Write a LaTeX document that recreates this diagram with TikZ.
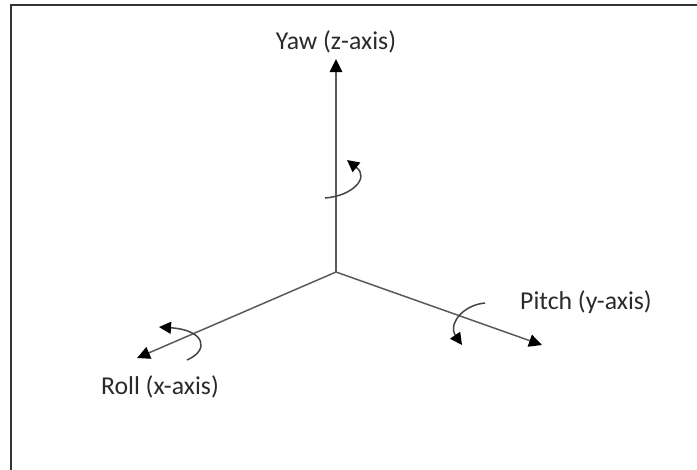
\documentclass[tikz,border=0pt]{standalone}
\usepackage{fontspec}
\setmainfont{Carlito}
\usepackage{tikz}
\usetikzlibrary{arrows.meta,positioning}
\definecolor{axisgray}{HTML}{5A5A5A}
\definecolor{rotgray}{HTML}{444444}
\definecolor{labelgray}{HTML}{2A2A2A}
\tikzset{
  axis/.style={draw=axisgray,line width=0.6pt,-{Triangle[length=5.2pt,width=5pt,color=black]}},
  rotarrow/.style={draw=rotgray,line width=0.6pt,-{Triangle[length=4.8pt,width=4.8pt,color=black]}},
  axislabel/.style={text=labelgray,font=\fontsize{10.3}{12}\selectfont,inner sep=0pt}
}

\begin{document}
\begin{tikzpicture}[x=0.4pt,y=-0.4pt]
    \useasboundingbox (0,0) rectangle (697,469);
    \draw[line width=0.8pt,black!80] (10.5,475) -- (10.5,5) -- (700,5);
    \coordinate (o)     at (336,272);
    \coordinate (ztip)  at (336,59);
    \coordinate (ytip)  at (542,345);
    \coordinate (xtip)  at (137,358);
    \draw[axis] (o) -- (ztip);
    \draw[axis] (o) -- (ytip);
    \draw[axis] (o) -- (xtip);
    \node[axislabel] (yaw)   at (336,42)  {Yaw (z-axis)};
    \node[axislabel] (pitch) at (586,302) {Pitch (y-axis)};
    \node[axislabel] (roll)  at (160,387) {Roll (x-axis)};
    \draw[rotarrow] (325,198) .. controls (352,196) and (370,178) .. (347,160);
    \draw[rotarrow] (485,303) .. controls (462,305) and (448,325) .. (462,345);
    \draw[rotarrow] (187,360) .. controls (210,350) and (205,330) .. (159,327);
  \end{tikzpicture}
\end{document}
